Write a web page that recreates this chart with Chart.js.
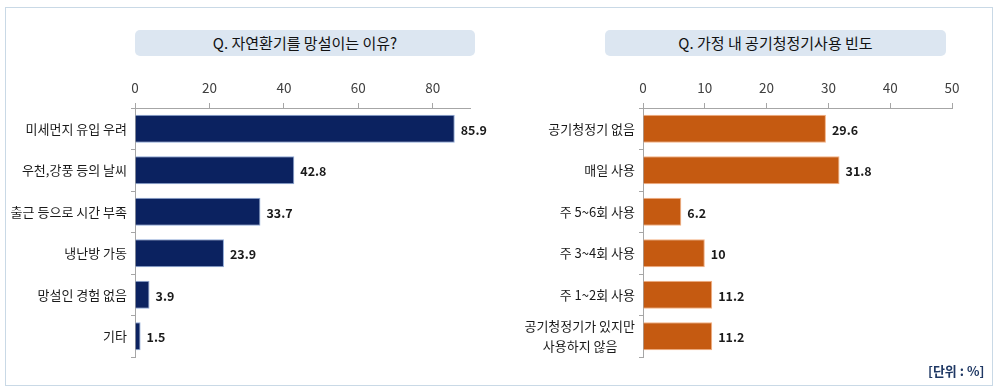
<!DOCTYPE html>
<html>
<head>
<meta charset="utf-8">
<script src="https://cdn.jsdelivr.net/npm/chart.js@4/dist/chart.umd.min.js"></script>
<style>
  body { margin: 0; background: #fff; font-family: "Noto Sans CJK KR", sans-serif; }
  .wrap { position: relative; width: 1000px; height: 391px; overflow: hidden; }
  .frame { position: absolute; left: 5px; top: 7px; width: 986px; height: 377px; border: 1px solid #c9d9e6; }
  .title-box {
    position: absolute; top: 30px; height: 26px; line-height: 26px;
    background: #dce6f1; border-radius: 5px; text-align: center;
    font-size: 15px; color: #111;
  }
  .unit { position: absolute; left: 928px; top: 361px; font-size: 13px; font-weight: bold; color: #1f3864; }
  .panel { position: absolute; top: 0; }
</style>
</head>
<body>
<div class="wrap">
  <div class="frame"></div>
  <div class="title-box" style="left:135px;width:340px">Q. 자연환기를 망설이는 이유?</div>
  <div class="title-box" style="left:605px;width:341px">Q. 가정 내 공기청정기사용 빈도</div>
  <canvas id="left-chart" class="panel" style="left:0" width="500" height="391"></canvas>
  <canvas id="right-chart" class="panel" style="left:500px" width="500" height="391"></canvas>
  <div class="unit">[단위 : %]</div>
</div>
<script>
const reasonLabels = ['미세먼지 유입 우려', '우천,강풍 등의 날씨', '출근 등으로 시간 부족', '냉난방 가동', '망설인 경험 없음', '기타'];
const reasonValues = [85.9, 42.8, 33.7, 23.9, 3.9, 1.5];
const reasonTicks = [0, 20, 40, 60, 80];
const reasonMax = 90;

const usageLabels = ['공기청정기 없음', '매일 사용', '주 5~6회 사용', '주 3~4회 사용', '주 1~2회 사용', ['공기청정기가 있지만', '사용하지 않음      ']];
const usageValues = [29.6, 31.8, 6.2, 10, 11.2, 11.2];
const usageTicks = [0, 10, 20, 30, 40, 50];
const usageMax = 50;

const fontFamily = '"Noto Sans CJK KR", "Noto Sans", sans-serif';
const axisColor = '#a6a6a6';

// value text at the end of each bar
const valueLabels = {
  id: 'valueLabels',
  afterDatasetsDraw(chart) {
    const ctx = chart.ctx;
    const meta = chart.getDatasetMeta(0);
    const values = chart.data.datasets[0].data;
    ctx.save();
    ctx.font = 'bold 12.5px ' + fontFamily;
    ctx.fillStyle = '#1a1a1a';
    ctx.textAlign = 'left';
    ctx.textBaseline = 'middle';
    meta.data.forEach((bar, i) => {
      ctx.fillText(String(values[i]), bar.x + 6, bar.y + 1);
    });
    ctx.restore();
  }
};

function makeChart(id, labels, values, ticks, max, color, border, yWidth, rightPad) {
  return new Chart(document.getElementById(id), {
    type: 'bar',
    data: {
      labels: labels,
      datasets: [{
        data: values,
        backgroundColor: color,
        borderColor: border,
        borderWidth: 1,
        categoryPercentage: 1,
        barPercentage: 0.67,
      }],
    },
    options: {
      indexAxis: 'y',
      responsive: false,
      animation: false,
      layout: { padding: { top: 0, left: 0, right: rightPad, bottom: 34 } },
      plugins: {
        legend: { display: false },
        tooltip: { enabled: false },
      },
      scales: {
        x: {
          position: 'top',
          min: 0,
          max: max,
          afterBuildTicks: axis => { axis.ticks = ticks.map(v => ({ value: v })); },
          afterFit: axis => { axis.height = 108; },
          border: { color: axisColor },
          grid: { drawOnChartArea: false, drawTicks: true, tickLength: 5, color: axisColor },
          ticks: { color: '#404040', padding: 7, font: { family: fontFamily, size: 13.5 } },
        },
        y: {
          afterFit: axis => { axis.width = yWidth; },
          border: { color: axisColor },
          grid: { drawOnChartArea: false, drawTicks: true, tickLength: 4, color: axisColor, offset: true },
          ticks: { color: '#1a1a1a', padding: 4, autoSkip: false, font: { family: fontFamily, size: 13, lineHeight: 1.55 } },
        },
      },
    },
    plugins: [valueLabels],
  });
}

makeChart('left-chart', reasonLabels, reasonValues, reasonTicks, reasonMax, '#0b2260', '#8ea9d6', 135, 30);
makeChart('right-chart', usageLabels, usageValues, usageTicks, usageMax, '#c55a11', '#f4b183', 143, 48);
</script>
</body>
</html>
